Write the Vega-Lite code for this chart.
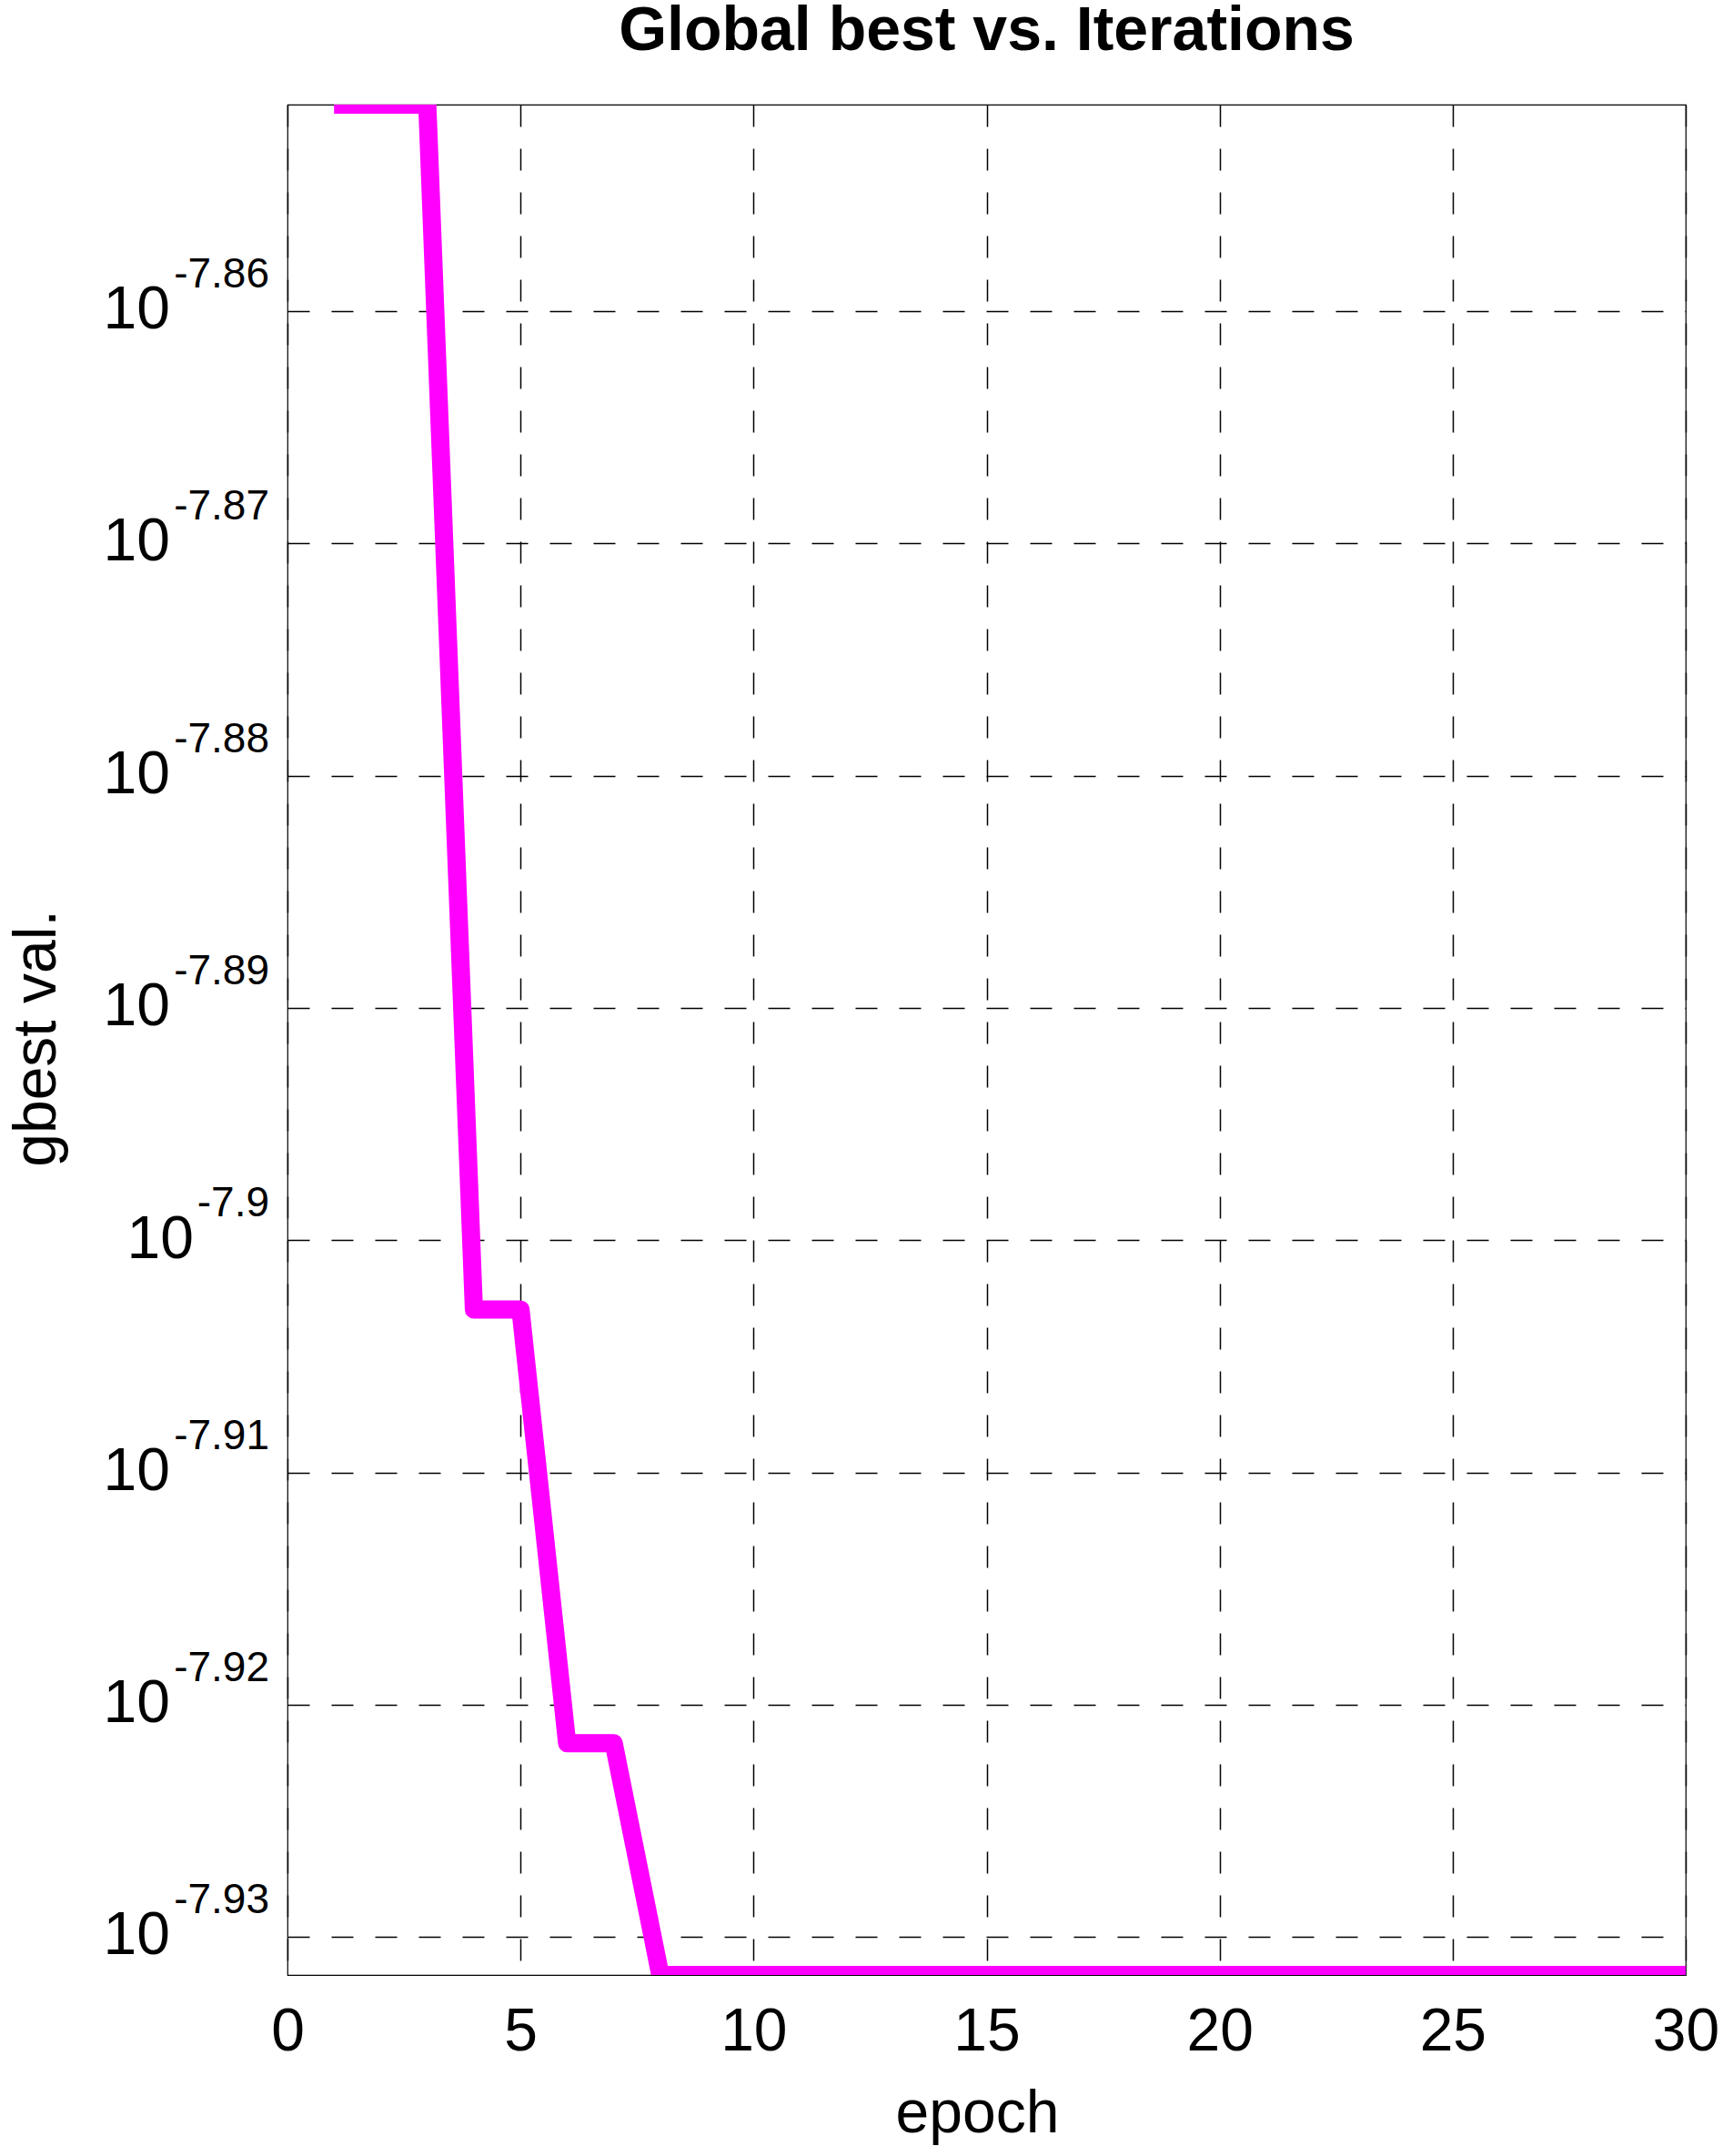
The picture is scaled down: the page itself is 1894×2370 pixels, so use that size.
{
  "$schema": "https://vega.github.io/schema/vega-lite/v6.json",
  "width": 1537,
  "height": 2056,
  "autosize": "none",
  "padding": {"left": 316, "top": 115, "right": 41, "bottom": 199},
  "background": "white",
  "config": {
    "view": {"stroke": "black", "strokeWidth": 1.2},
    "font": "Liberation Sans",
    "text": {"font": "Liberation Sans", "color": "black"}
  },
  "title": {
    "text": "Global best vs. Iterations",
    "font": "Liberation Sans",
    "fontSize": 68,
    "fontWeight": "bold",
    "color": "black",
    "anchor": "middle",
    "frame": "group",
    "baseline": "alphabetic",
    "offset": -8
  },
  "datasets": {
    "gbest": [
      {"epoch": 1, "gbest": 1.4089e-8},
      {"epoch": 2, "gbest": 1.4089e-8},
      {"epoch": 3, "gbest": 1.4089e-8},
      {"epoch": 4, "gbest": 1.2503e-8},
      {"epoch": 5, "gbest": 1.2503e-8},
      {"epoch": 6, "gbest": 1.1977e-8},
      {"epoch": 7, "gbest": 1.1977e-8},
      {"epoch": 8, "gbest": 1.1705e-8},
      {"epoch": 9, "gbest": 1.1705e-8},
      {"epoch": 10, "gbest": 1.1705e-8},
      {"epoch": 11, "gbest": 1.1705e-8},
      {"epoch": 12, "gbest": 1.1705e-8},
      {"epoch": 13, "gbest": 1.1705e-8},
      {"epoch": 14, "gbest": 1.1705e-8},
      {"epoch": 15, "gbest": 1.1705e-8},
      {"epoch": 16, "gbest": 1.1705e-8},
      {"epoch": 17, "gbest": 1.1705e-8},
      {"epoch": 18, "gbest": 1.1705e-8},
      {"epoch": 19, "gbest": 1.1705e-8},
      {"epoch": 20, "gbest": 1.1705e-8},
      {"epoch": 21, "gbest": 1.1705e-8},
      {"epoch": 22, "gbest": 1.1705e-8},
      {"epoch": 23, "gbest": 1.1705e-8},
      {"epoch": 24, "gbest": 1.1705e-8},
      {"epoch": 25, "gbest": 1.1705e-8},
      {"epoch": 26, "gbest": 1.1705e-8},
      {"epoch": 27, "gbest": 1.1705e-8},
      {"epoch": 28, "gbest": 1.1705e-8},
      {"epoch": 29, "gbest": 1.1705e-8},
      {"epoch": 30, "gbest": 1.1705e-8}
    ],
    "ticks": [
      {"v": 1.380384e-8, "base": "10", "exp": "-7.86"},
      {"v": 1.348963e-8, "base": "10", "exp": "-7.87"},
      {"v": 1.318257e-8, "base": "10", "exp": "-7.88"},
      {"v": 1.288250e-8, "base": "10", "exp": "-7.89"},
      {"v": 1.258925e-8, "base": "10", "exp": "-7.9"},
      {"v": 1.230269e-8, "base": "10", "exp": "-7.91"},
      {"v": 1.202264e-8, "base": "10", "exp": "-7.92"},
      {"v": 1.174898e-8, "base": "10", "exp": "-7.93"}
    ]
  },
  "layer": [
    {
      "data": {"name": "gbest"},
      "mark": {"type": "line", "color": "#ff00ff", "strokeWidth": 20, "strokeJoin": "round", "strokeCap": "butt", "clip": true},
      "encoding": {
        "x": {
          "field": "epoch",
          "type": "quantitative",
          "scale": {"domain": [0, 30], "nice": false, "zero": false},
          "axis": {
            "values": [0, 5, 10, 15, 20, 25, 30],
            "title": "epoch",
            "titleFont": "Liberation Sans",
            "titleFontSize": 66,
            "titleFontWeight": "normal",
            "titleColor": "black",
            "titleBaseline": "alphabetic",
            "titleX": 758,
            "titleY": 172,
            "labelFont": "Liberation Sans",
            "labelFontSize": 66,
            "labelColor": "black",
            "labelBaseline": "alphabetic",
            "labelPadding": 82,
            "labelFlush": false,
            "labelOverlap": false,
            "ticks": false,
            "tickSize": 0,
            "domain": false,
            "grid": true,
            "gridColor": "black",
            "gridOpacity": 1,
            "gridWidth": 1.5,
            "gridDash": [24, 24]
          }
        },
        "y": {
          "field": "gbest",
          "type": "quantitative",
          "scale": {"type": "log", "domain": [1.1705e-8, 1.4089e-8], "nice": false},
          "axis": {
            "values": [1.380384e-8, 1.348963e-8, 1.318257e-8, 1.288250e-8, 1.258925e-8, 1.230269e-8, 1.202264e-8, 1.174898e-8],
            "labels": false,
            "ticks": false,
            "tickSize": 0,
            "domain": false,
            "title": "gbest val.",
            "titleFont": "Liberation Sans",
            "titleFontSize": 66,
            "titleFontWeight": "normal",
            "titleColor": "black",
            "titleAngle": -90,
            "titleAlign": "center",
            "titleBaseline": "alphabetic",
            "titleX": -256,
            "titleY": 1026,
            "grid": true,
            "gridColor": "black",
            "gridOpacity": 1,
            "gridWidth": 1.5,
            "gridDash": [24, 24]
          }
        }
      }
    },
    {
      "data": {"name": "ticks"},
      "transform": [{"filter": "datum.exp != '-7.9'"}],
      "mark": {"type": "text", "align": "right", "baseline": "alphabetic", "fontSize": 66, "dx": -129, "dy": 19, "clip": false},
      "encoding": {
        "x": {"datum": 0, "type": "quantitative"},
        "y": {"field": "v", "type": "quantitative"},
        "text": {"field": "base"}
      }
    },
    {
      "data": {"name": "ticks"},
      "transform": [{"filter": "datum.exp == '-7.9'"}],
      "mark": {"type": "text", "align": "right", "baseline": "alphabetic", "fontSize": 66, "dx": -103, "dy": 20, "clip": false},
      "encoding": {
        "x": {"datum": 0, "type": "quantitative"},
        "y": {"field": "v", "type": "quantitative"},
        "text": {"field": "base"}
      }
    },
    {
      "data": {"name": "ticks"},
      "mark": {"type": "text", "align": "right", "baseline": "alphabetic", "fontSize": 46, "dx": -20, "dy": -26, "clip": false},
      "encoding": {
        "x": {"datum": 0, "type": "quantitative"},
        "y": {"field": "v", "type": "quantitative"},
        "text": {"field": "exp"}
      }
    }
  ]
}
